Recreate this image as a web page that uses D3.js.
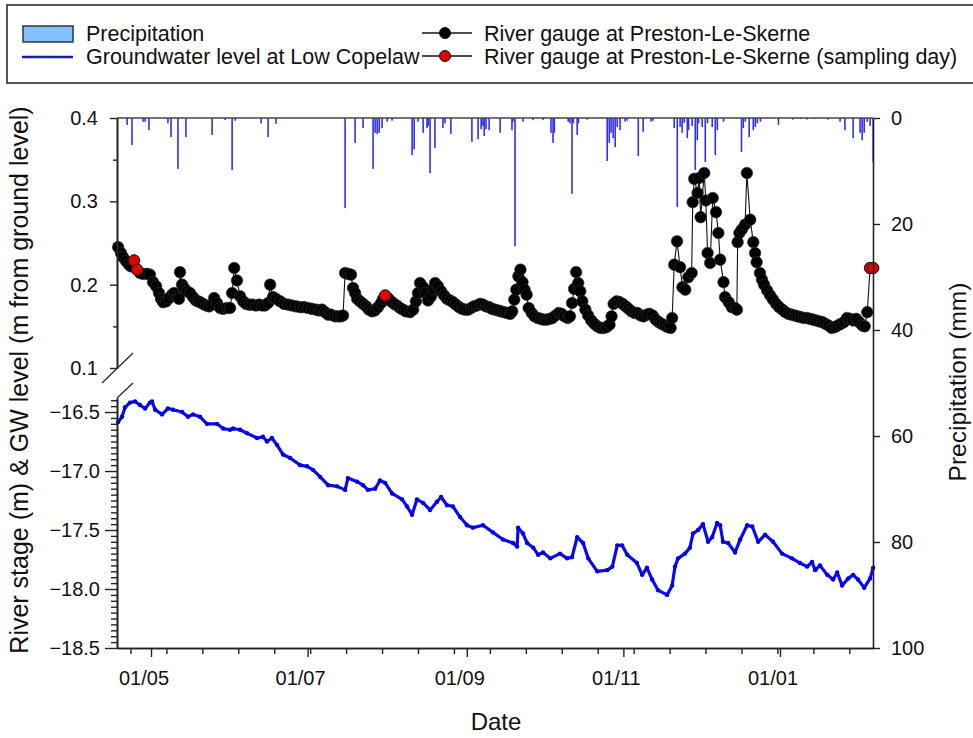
<!DOCTYPE html>
<html>
<head>
<meta charset="utf-8">
<script src="https://cdn.jsdelivr.net/npm/d3@7"></script>
<style>
  html, body { margin: 0; padding: 0; background: #fff; }
  svg { display: block; font-family: "Liberation Sans", Arial, sans-serif; }
</style>
</head>
<body>
<svg id="chart" width="973" height="738"></svg>
<script>
// ---------------- DATA ----------------
// day offsets counted from START_DATE (18 Apr 2015)
const START_DATE = Date.UTC(2015, 3, 18);

// River gauge at Preston-Le-Skerne: [day, level (m from ground level)]
const river = [
[0.2,.245],[1.3,.238],[2.1,.233],[3.3,.228],[4.4,.224],[5.2,.222],[6.4,.229],[7.6,.218],[8.7,.214],[9.9,.213],[11.5,.213],[12.6,.212],[13.8,.203],[15.0,.198],[16.1,.190],[16.9,.183],[17.7,.179],[18.9,.180],[20.0,.184],[21.2,.188],[22.0,.190],[23.1,.185],[23.9,.183],[24.3,.215],[25.1,.200],[25.9,.196],[27.0,.192],[28.2,.190],[29.4,.185],[30.5,.181],[31.3,.180],[32.1,.179],[33.3,.177],[34.4,.175],[35.6,.174],[36.8,.176],[37.6,.184],[38.7,.178],[39.9,.172],[41.1,.171],[42.6,.172],[43.8,.172],[44.6,.190],[45.4,.220],[46.5,.205],[47.7,.186],[48.9,.180],[50.0,.177],[51.2,.176],[52.4,.176],[53.9,.175],[55.1,.176],[56.3,.175],[57.4,.175],[58.6,.178],[59.4,.200],[60.5,.185],[61.7,.183],[63.3,.180],[64.8,.177],[66.4,.176],[67.9,.175],[69.5,.174],[71.1,.173],[72.6,.173],[74.2,.172],[75.7,.171],[77.3,.170],[78.5,.169],[79.6,.170],[80.8,.167],[82.0,.164],[83.1,.164],[84.7,.162],[85.9,.162],[87.0,.162],[87.8,.163],[88.6,.214],[89.7,.213],[90.9,.212],[91.7,.196],[92.5,.190],[93.3,.183],[94.4,.180],[95.6,.177],[96.8,.174],[97.9,.170],[99.1,.168],[100.2,.169],[101.4,.173],[102.6,.178],[103.4,.183],[104.2,.187],[105.3,.184],[106.5,.180],[107.7,.177],[108.8,.175],[110.0,.172],[111.2,.170],[112.3,.168],[113.9,.167],[115.1,.170],[116.2,.180],[117.0,.190],[117.8,.202],[119.0,.197],[119.8,.190],[120.9,.181],[122.1,.186],[122.9,.195],[123.7,.202],[124.8,.198],[126.0,.192],[127.2,.187],[128.3,.183],[129.5,.181],[130.6,.179],[131.8,.176],[133.0,.173],[134.2,.171],[135.3,.170],[136.5,.170],[137.7,.172],[138.8,.174],[140.0,.175],[141.2,.177],[142.3,.176],[143.5,.174],[144.7,.173],[145.8,.171],[147.0,.170],[148.2,.169],[149.3,.168],[150.5,.167],[151.7,.166],[152.9,.165],[153.7,.168],[154.5,.182],[155.3,.194],[156.1,.210],[156.9,.218],[157.7,.203],[158.5,.194],[159.3,.188],[160.1,.172],[161.3,.166],[162.4,.162],[163.6,.160],[164.8,.159],[165.9,.158],[167.1,.158],[168.3,.159],[169.4,.160],[170.6,.163],[171.8,.166],[172.9,.165],[174.1,.162],[175.3,.160],[176.2,.162],[177.0,.178],[177.8,.195],[178.6,.215],[179.4,.202],[180.2,.192],[181.0,.180],[182.2,.170],[183.3,.163],[184.5,.157],[185.7,.153],[186.9,.150],[188.1,.148],[189.3,.148],[190.4,.149],[191.6,.152],[192.4,.162],[193.2,.177],[194.4,.180],[195.5,.179],[196.7,.177],[197.9,.174],[199.0,.171],[200.2,.168],[201.4,.166],[202.5,.166],[203.7,.163],[204.9,.162],[206.1,.164],[207.2,.165],[208.4,.163],[209.6,.158],[210.8,.155],[211.9,.153],[213.1,.151],[214.3,.149],[215.4,.148],[216.0,.160],[216.8,.224],[217.9,.252],[219.1,.221],[220.0,.197],[221.1,.194],[222.3,.209],[223.6,.214],[224.0,.299],[224.6,.327],[225.9,.310],[226.5,.328],[227.1,.281],[228.5,.334],[229.1,.301],[229.8,.238],[230.8,.226],[231.8,.304],[233.1,.287],[234.0,.262],[234.7,.230],[236.0,.203],[236.6,.185],[238.0,.179],[239.2,.173],[240.5,.172],[241.2,.170],[241.5,.251],[242.2,.262],[243.1,.266],[244.4,.272],[245.1,.334],[246.4,.278],[247.6,.251],[248.3,.238],[248.9,.227],[250.2,.214],[251.0,.206],[251.8,.200],[253.0,.193],[254.2,.187],[255.3,.182],[256.5,.177],[257.7,.173],[258.9,.170],[260.1,.167],[261.3,.165],[262.5,.164],[263.7,.163],[264.9,.162],[266.1,.161],[267.3,.160],[268.5,.160],[269.7,.159],[270.9,.158],[272.1,.157],[273.3,.156],[274.5,.155],[275.7,.153],[276.9,.151],[278.1,.148],[279.3,.149],[280.5,.151],[281.7,.153],[282.9,.155],[284.1,.160],[285.3,.159],[286.5,.157],[287.7,.159],[288.9,.155],[290.1,.151],[291.0,.150],[292.0,.167],[293.1,.220],[294.3,.220]
];

// River gauge on sampling days: [day, level]
const samplingDays = [[6.4,.229],[7.6,.218],[104.2,.187],[293.1,.220],[294.3,.220]];

// Groundwater level at Low Copelaw: [day, level (m)]
const groundwater = [
[0.2,-16.585],[1.7,-16.54],[2.9,-16.46],[4.8,-16.42],[6.8,-16.41],[8.7,-16.44],[10.7,-16.47],[12.6,-16.42],[13.4,-16.41],[14.6,-16.48],[17.3,-16.52],[19.6,-16.47],[21.6,-16.48],[25.1,-16.50],[27.4,-16.54],[29.4,-16.52],[32.1,-16.54],[34.8,-16.60],[38.7,-16.60],[41.1,-16.64],[43.8,-16.65],[45.0,-16.64],[47.7,-16.65],[50.4,-16.68],[54.3,-16.72],[56.6,-16.71],[58.2,-16.75],[60.1,-16.72],[62.1,-16.78],[64.4,-16.86],[67.2,-16.89],[71.1,-16.95],[73.8,-16.96],[76.1,-16.99],[78.9,-17.05],[82.0,-17.12],[85.5,-17.13],[88.6,-17.16],[89.7,-17.06],[93.3,-17.09],[95.6,-17.12],[97.5,-17.16],[100.3,-17.15],[102.2,-17.08],[104.2,-17.10],[106.9,-17.19],[110.8,-17.24],[112.7,-17.30],[114.7,-17.37],[116.6,-17.24],[119.0,-17.27],[121.7,-17.33],[124.4,-17.26],[126.0,-17.22],[128.3,-17.29],[130.6,-17.30],[133.4,-17.39],[136.1,-17.46],[138.4,-17.48],[142.3,-17.46],[146.2,-17.52],[150.1,-17.58],[154.0,-17.61],[155.6,-17.64],[156.0,-17.48],[157.9,-17.53],[159.5,-17.61],[161.9,-17.65],[163.8,-17.71],[165.7,-17.69],[168.5,-17.74],[172.3,-17.70],[175.1,-17.74],[177.0,-17.73],[179.0,-17.56],[181.3,-17.61],[183.3,-17.74],[186.8,-17.85],[190.7,-17.84],[192.7,-17.81],[194.6,-17.63],[196.5,-17.63],[198.5,-17.71],[202.3,-17.78],[204.3,-17.88],[206.2,-17.82],[208.2,-17.92],[210.5,-18.01],[214.0,-18.05],[216.0,-17.97],[217.1,-17.81],[218.3,-17.74],[221.0,-17.70],[222.9,-17.65],[224.1,-17.53],[226.1,-17.50],[228.0,-17.45],[230.0,-17.60],[231.6,-17.56],[233.5,-17.44],[234.7,-17.46],[235.8,-17.60],[237.8,-17.61],[240.5,-17.69],[242.5,-17.58],[245.2,-17.46],[247.2,-17.47],[249.5,-17.60],[252.2,-17.54],[255.3,-17.60],[258.8,-17.70],[262.7,-17.74],[265.8,-17.78],[268.6,-17.81],[270.5,-17.77],[271.7,-17.84],[273.6,-17.80],[276.4,-17.88],[278.7,-17.92],[280.3,-17.86],[282.2,-17.97],[284.6,-17.91],[286.5,-17.88],[288.4,-17.92],[290.8,-17.99],[293.1,-17.91],[294.3,-17.82]
];

// Precipitation: [day, mm]
const precipitation = [
[3.7,1.3],[5.6,5.1],[9.9,0.7],[10.7,0.7],[12.2,2.3],[19.6,1.0],[20.8,3.6],[23.5,9.6],[26.6,3.6],[36.8,3.2],[41.9,0.4],[44.6,9.8],[45.8,0.5],[55.9,1.0],[58.6,3.6],[61.7,1.1],[88.6,17.0],[92.5,4.7],[95.6,1.9],[99.5,9.6],[100.3,2.8],[101.1,3.0],[101.9,2.8],[103.0,1.9],[105.0,0.7],[106.9,0.5],[114.7,7.0],[115.5,5.9],[117.0,0.7],[119.0,2.8],[120.5,1.9],[121.0,1.5],[121.7,10.4],[123.6,5.7],[126.7,1.9],[127.5,1.0],[129.8,3.0],[138.0,4.5],[140.4,4.0],[141.6,2.1],[142.3,1.5],[142.8,3.4],[143.5,2.1],[144.7,2.3],[149.0,2.8],[153.6,2.3],[154.0,0.7],[154.8,24.2],[157.9,0.7],[161.8,0.4],[165.7,0.4],[168.8,2.8],[169.6,4.7],[170.1,2.8],[175.5,0.7],[176.2,1.0],[177.0,14.3],[177.5,1.0],[179.0,3.2],[179.5,1.0],[182.9,0.3],[190.7,8.1],[191.5,4.7],[192.2,2.8],[193.0,3.8],[193.8,5.5],[194.6,1.7],[195.7,2.3],[197.7,0.7],[198.5,0.5],[202.8,7.2],[204.7,2.6],[207.8,0.7],[208.6,0.5],[216.8,1.9],[218.0,16.8],[219.1,1.7],[219.9,2.8],[220.7,0.9],[221.9,3.8],[222.4,2.3],[223.8,1.5],[225.0,9.8],[225.8,4.2],[226.3,1.0],[227.7,1.7],[228.9,8.3],[229.8,1.0],[231.6,1.7],[232.8,7.0],[233.6,2.3],[236.0,0.7],[243.0,6.4],[243.7,1.9],[244.5,0.7],[246.0,3.6],[247.6,2.3],[248.4,1.7],[249.2,1.0],[250.4,0.7],[257.4,1.3],[263.0,0.3],[266.0,0.2],[268.5,0.3],[271.0,0.2],[276.7,0.3],[281.4,0.7],[283.3,2.3],[286.5,3.8],[289.2,2.8],[290.0,4.2],[290.8,2.8],[292.0,0.7],[293.1,1.5],[294.3,8.3]
];

// Tick definitions
const monthTickDates = ["2015-05-01","2015-07-01","2015-09-01","2015-11-01","2016-01-01"];
const monthTickLabels = ["01/05","01/07","01/09","01/11","01/01"];
const minorTickStart = "2015-04-23";   // fortnightly minor ticks
const upperTicks = [0.1, 0.2, 0.3, 0.4];
const upperMinorTicks = [0.15, 0.25, 0.35];
const lowerTicks = [-18.5, -18.0, -17.5, -17.0, -16.5];
const precipTicks = [0, 20, 40, 60, 80, 100];

// ---------------- CHART ----------------
const svg = d3.select("#chart");
const L = 117, R = 873, T = 118, B = 648;
const DAY = 864e5;
const toDate = d => new Date(START_DATE + d * DAY);

const x = d3.scaleUtc().domain([toDate(-0.245), toDate(294.23)]).range([L, R]);
const yUp = d3.scaleLinear().domain([0.1, 0.4]).range([368, T]);
const yLow = d3.scaleLinear().domain([-18.5, -16.381]).range([B, 398]);
const yP = d3.scaleLinear().domain([0, 100]).range([T, B]);

const axisColor = "#222";

// precipitation bars
svg.append("g").selectAll("rect").data(precipitation).join("rect")
  .attr("x", d => x(toDate(d[0])) - 0.8)
  .attr("y", yP(0))
  .attr("width", 1.6)
  .attr("height", d => yP(d[1]) - yP(0))
  .attr("fill", "#3030f2");

// groundwater line
const gwLine = d3.line().x(d => x(toDate(d[0]))).y(d => yLow(d[1]));
svg.append("path").datum(groundwater)
  .attr("d", gwLine).attr("fill", "none")
  .attr("stroke", "#0a0af0").attr("stroke-width", 3.2).attr("stroke-linejoin", "round");
svg.append("g").selectAll("circle").data(groundwater).join("circle")
  .attr("cx", d => x(toDate(d[0]))).attr("cy", d => yLow(d[1])).attr("r", 2.2)
  .attr("fill", "#0000e0");

// river line + markers
const rvLine = d3.line().x(d => x(toDate(d[0]))).y(d => yUp(d[1]));
svg.append("path").datum(river)
  .attr("d", rvLine).attr("fill", "none")
  .attr("stroke", "#111").attr("stroke-width", 1.1);
svg.append("g").selectAll("circle").data(river).join("circle")
  .attr("cx", d => x(toDate(d[0]))).attr("cy", d => yUp(d[1])).attr("r", 5.8)
  .attr("fill", "#000").attr("stroke", "#333").attr("stroke-width", 0.6);
svg.append("g").selectAll("circle").data(samplingDays).join("circle")
  .attr("cx", d => x(toDate(d[0]))).attr("cy", d => yUp(d[1])).attr("r", 5.6)
  .attr("fill", "#e00000").attr("stroke", "#222").attr("stroke-width", 1);

// ---- axes ----
function styleAxis(g) {
  g.selectAll("path.domain").attr("stroke", axisColor).attr("stroke-width", 1.6);
  g.selectAll(".tick line").attr("stroke", axisColor).attr("stroke-width", 1.4);
  g.selectAll(".tick text").attr("font-size", 20).attr("fill", "#111")
    .attr("font-family", "'Liberation Sans', Arial, sans-serif");
}

// top frame line
svg.append("line").attr("x1", L).attr("x2", R).attr("y1", T).attr("y2", T)
  .attr("stroke", "#444").attr("stroke-width", 1.4);

// bottom axis
const monthDates = monthTickDates.map(s => new Date(s + "T00:00:00Z"));
const minorStart = new Date(minorTickStart + "T00:00:00Z").getTime();
const minorDates = d3.range(0, 21).map(k => new Date(minorStart + k * 14 * DAY));
svg.append("g").attr("transform", `translate(0,${B})`)
  .call(d3.axisBottom(x).tickValues(minorDates).tickSize(6).tickSizeOuter(0).tickFormat(""))
  .call(styleAxis);
svg.append("g").attr("transform", `translate(0,${B})`)
  .call(d3.axisBottom(x).tickValues(monthDates).tickSize(9).tickSizeOuter(0).tickFormat(""))
  .call(styleAxis);
svg.append("g").selectAll("text").data(monthDates).join("text")
  .attr("x", d => x(d) - 7).attr("y", 685)
  .attr("text-anchor", "middle").attr("font-size", 20).attr("fill", "#111")
  .text((d, i) => monthTickLabels[i]);

// left upper axis
svg.append("g").attr("transform", `translate(${L},0)`)
  .call(d3.axisLeft(yUp).tickValues(upperMinorTicks).tickSize(4).tickSizeOuter(0).tickFormat(""))
  .call(styleAxis);
svg.append("g").attr("transform", `translate(${L},0)`)
  .call(d3.axisLeft(yUp).tickValues(upperTicks).tickSize(7).tickPadding(12).tickSizeOuter(0).tickFormat(d3.format(".1f")))
  .call(styleAxis);

// left lower axis
const lowerMinor = d3.range(-18.45, -16.38, 0.05).filter(v => Math.abs(v * 2 - Math.round(v * 2)) > 0.01);
svg.append("g").attr("transform", `translate(${L},0)`)
  .call(d3.axisLeft(yLow).tickValues(lowerMinor).tickSize(6).tickSizeOuter(0).tickFormat(""))
  .call(styleAxis);
svg.append("g").attr("transform", `translate(${L},0)`)
  .call(d3.axisLeft(yLow).tickValues(lowerTicks).tickSize(12).tickPadding(5).tickSizeOuter(0).tickFormat(d3.format(".1f")))
  .call(styleAxis);

// break marks
svg.append("line").attr("x1", 102).attr("y1", 383).attr("x2", 133).attr("y2", 353)
  .attr("stroke", axisColor).attr("stroke-width", 1.2);
svg.append("line").attr("x1", L).attr("y1", 398).attr("x2", 133).attr("y2", 383)
  .attr("stroke", axisColor).attr("stroke-width", 1.2);

// right axis
svg.append("g").attr("transform", `translate(${R},0)`)
  .call(d3.axisRight(yP).tickValues(precipTicks).tickSize(7).tickPadding(11).tickSizeOuter(0))
  .call(styleAxis);

// axis titles
svg.append("text").attr("transform", "translate(28,380) rotate(-90)")
  .attr("text-anchor", "middle").attr("font-size", 25).attr("fill", "#111")
  .text("River stage (m) & GW level (m from ground level)");
svg.append("text").attr("transform", "translate(966,382) rotate(-90)")
  .attr("text-anchor", "middle").attr("font-size", 24.5).attr("fill", "#111")
  .text("Precipitation (mm)");
svg.append("text").attr("x", 496).attr("y", 730)
  .attr("text-anchor", "middle").attr("font-size", 24).attr("fill", "#111")
  .text("Date");

// ---- legend ----
const lg = svg.append("g");
lg.append("rect").attr("x", 7).attr("y", 5).attr("width", 970).attr("height", 78)
  .attr("fill", "#fff").attr("stroke", "#555").attr("stroke-width", 2);
lg.append("rect").attr("x", 23).attr("y", 26).attr("width", 50).attr("height", 16)
  .attr("fill", "#80c0ff").attr("stroke", "#333").attr("stroke-width", 1.5);
lg.append("line").attr("x1", 22).attr("x2", 73).attr("y1", 57).attr("y2", 57)
  .attr("stroke", "#1e1e96").attr("stroke-width", 2.5);
lg.append("text").attr("x", 86).attr("y", 41).attr("font-size", 21.5).attr("fill", "#111").text("Precipitation");
lg.append("text").attr("x", 86).attr("y", 64).attr("font-size", 21.5).attr("fill", "#111").text("Groundwater level at Low Copelaw");
[[33, "#000"], [56, "#e00000"]].forEach(([yy, col]) => {
  lg.append("line").attr("x1", 422).attr("x2", 472).attr("y1", yy).attr("y2", yy)
    .attr("stroke", "#111").attr("stroke-width", 1.4);
  lg.append("circle").attr("cx", 445).attr("cy", yy).attr("r", 5.5)
    .attr("fill", col).attr("stroke", "#111").attr("stroke-width", 1);
});
lg.append("text").attr("x", 484).attr("y", 41).attr("font-size", 21.5).attr("fill", "#111").text("River gauge at Preston-Le-Skerne");
lg.append("text").attr("x", 484).attr("y", 64).attr("font-size", 21.5).attr("fill", "#111").text("River gauge at Preston-Le-Skerne (sampling day)");
</script>
</body>
</html>
